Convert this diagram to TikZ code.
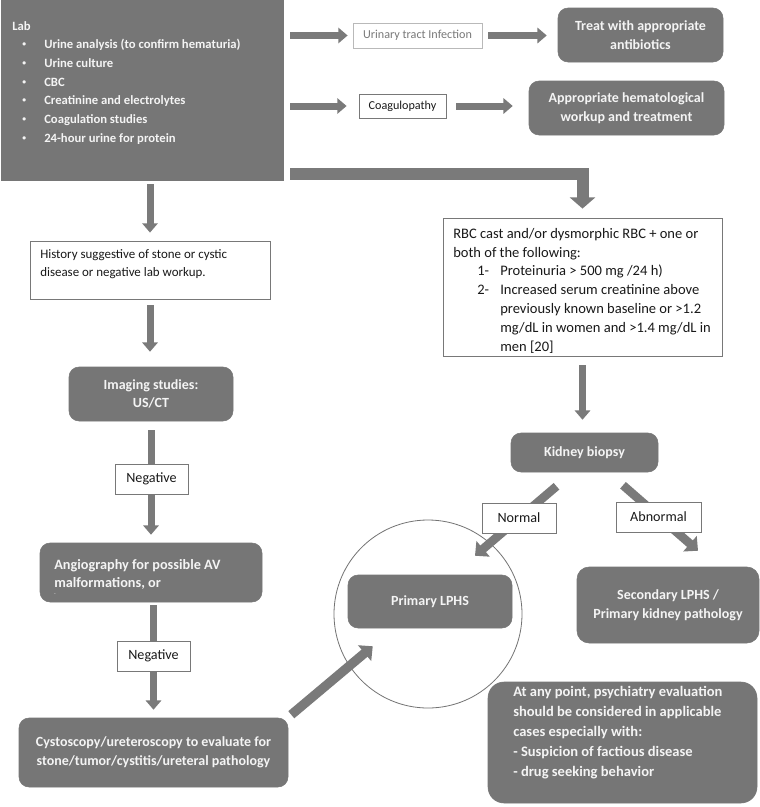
\documentclass[tikz,border=0pt]{standalone}
\usepackage{fontspec}
\setmainfont{Carlito}
\usetikzlibrary{arrows.meta}
\definecolor{boxg}{RGB}{118,118,118}
\definecolor{arrg}{RGB}{122,122,122}
\definecolor{bord}{RGB}{120,120,120}
\definecolor{wtxt}{RGB}{244,244,244}
\definecolor{dtxt}{RGB}{25,25,25}
\definecolor{ltxt}{RGB}{120,120,120}
\newcommand{\blt}{\hspace*{7.5pt}\makebox[16.5pt][l]{\raisebox{0.3ex}{\scalebox{0.6}{•}}}}
\begin{document}
\begin{tikzpicture}[x=0.75pt,y=-0.75pt,
  darkbox/.style={fill=boxg, draw=boxg, rounded corners=7.5pt, text=wtxt,
    font=\bfseries\fontsize{10.5}{14}\selectfont, align=center, inner sep=0pt},
  whitebox/.style={fill=white, draw=bord, line width=0.6pt, inner sep=0pt, text=dtxt,
    font=\fontsize{10.6}{14}\selectfont},
  arr/.style={draw=arrg, line width=5.25pt, -{Triangle[width=11.5pt,length=7pt]}},
  darr/.style={draw=arrg, line width=6.5pt, -{Triangle[width=15pt,length=8pt]}},
  elb/.style={draw=arrg, line width=9pt, -{Triangle[width=19pt,length=8.5pt]}},
]
\useasboundingbox (0,0) rectangle (760,807);
\fill[white] (0,0) rectangle (760,807);

% top lab box
\node[fill=boxg, draw=boxg, minimum width=211.5pt, minimum height=135pt, inner sep=0pt] (lab) at (142,90) {};
\node[anchor=north west, inner sep=0pt, align=left, text=wtxt, font=\bfseries\fontsize{9.5}{14}\selectfont] (labtxt) at (12,21)
 {Lab\\
  \blt Urine analysis (to confirm hematuria)\\
  \blt Urine culture\\
  \blt CBC\\
  \blt Creatinine and electrolytes\\
  \blt Coagulation studies\\
  \blt 24-hour urine for protein};

% right top column
\node[whitebox, draw=gray!55, text=ltxt, font=\fontsize{9.1}{12}\selectfont, minimum width=96.75pt, minimum height=18.75pt] (uti) at (417.5,35.5) {Urinary tract Infection};
\node[darkbox, minimum width=123.75pt, minimum height=40.5pt] (treat) at (640.5,35) {Treat with appropriate\\antibiotics};
\node[whitebox, font=\fontsize{9.1}{12}\selectfont, minimum width=65.25pt, minimum height=18pt] (coag) at (402.5,106) {Coagulopathy};
\node[darkbox, minimum width=146.25pt, minimum height=40.5pt] (hemato) at (626.5,108) {Appropriate hematological\\workup and treatment};

% RBC box
\node[whitebox, minimum width=209.25pt, minimum height=103.5pt] (rbc) at (582.5,287) {};
\node[anchor=north west, inner sep=0pt, align=left, text=dtxt, font=\fontsize{10.9}{14.1}\selectfont] (rbctxt) at (453,228)
 {RBC cast and/or dysmorphic RBC + one or\\
  both of the following:\\
  \hspace*{18pt}\makebox[17.25pt][l]{1-}Proteinuria > 500 mg /24 h)\\
  \hspace*{18pt}\makebox[17.25pt][l]{2-}Increased serum creatinine above\\
  \hspace*{35.25pt}previously known baseline or >1.2\\
  \hspace*{35.25pt}mg/dL in women and >1.4 mg/dL in\\
  \hspace*{35.25pt}men [20]};

\node[darkbox, minimum width=110.25pt, minimum height=29.25pt] (kidney) at (584.5,452.5) {Kidney biopsy};

% left column
\node[whitebox, minimum width=180pt, minimum height=43.5pt] (hist) at (150,270) {};
\node[anchor=north west, inner sep=0pt, align=left, text=dtxt, font=\fontsize{9.7}{13.5}\selectfont] (histtxt) at (40,249)
 {History suggestive of stone or cystic\\disease or negative lab workup.};
\node[darkbox, minimum width=123pt, minimum height=40.5pt] (img) at (151,394) {Imaging studies:\\US/CT};
\node[darkbox, minimum width=166.5pt, minimum height=44.25pt] (angio) at (151,572.5) {};
\node[anchor=north west, inner sep=0pt, align=left, text=wtxt, font=\bfseries\fontsize{10.7}{14}\selectfont] (angiotxt) at (54,559)
 {Angiography for possible AV\\malformations, or};
\node[anchor=west, inner sep=0pt, text=wtxt, font=\fontsize{4}{4}\selectfont] (angiodot) at (54,595) {·};
\node[darkbox, minimum width=201.75pt, minimum height=51.75pt] (cysto) at (153.5,752.5) {Cystoscopy/ureteroscopy to evaluate for\\stone/tumor/cystitis/ureteral pathology};

% circle and primary
\node[circle, draw=gray!90!black, line width=0.6pt, minimum size=141pt, inner sep=0pt] (circ) at (428,614) {};
\node[darkbox, minimum width=123pt, minimum height=39.75pt] (primary) at (430,601.5) {Primary LPHS};
\node[darkbox, minimum width=136.5pt, minimum height=57pt, rounded corners=9pt] (second) at (668,605) {Secondary LPHS /\\Primary kidney pathology};
\node[darkbox, minimum width=201.75pt, minimum height=90.75pt, rounded corners=12pt] (psych) at (622.5,742.5) {};
\node[anchor=north west, inner sep=0pt, align=left, text=wtxt, font=\bfseries\fontsize{10.9}{15}\selectfont] (psychtxt) at (513,686)
 {At any point, psychiatry evaluation\\
  should be considered in applicable\\
  cases especially with:\\
  - Suspicion of factious disease\\
  - drug seeking behavior};

% arrows
\draw[arr, shorten <=5.25pt, shorten >=3.75pt] (lab.east |- uti.west) -- (uti.west);
\draw[arr, shorten <=4.5pt, shorten >=8.25pt] (uti.east) -- (treat.west |- uti.east);
\draw[arr, shorten <=5.25pt, shorten >=9pt] (lab.east |- coag.west) -- (coag.west);
\draw[arr, shorten <=7.5pt, shorten >=12pt] (coag.east) -- (hemato.west |- coag.east);
\draw[elb] ([shift={(7,-6)}]lab.south east) -| ([yshift=6.75pt]rbc.north);
\draw[arr, shorten <=3pt, shorten >=6pt] (hist.north |- lab.south) -- (hist.north);
\draw[arr, shorten <=4.5pt, shorten >=11.25pt] (hist.south) -- (hist.south |- img.north);
\draw[arr, shorten <=6.75pt, shorten >=6pt] (img.south) -- (img.south |- angio.north);
\draw[arr, shorten <=2.25pt, shorten >=6pt] (cysto.north |- angio.south) -- (cysto.north);
\draw[arr, shorten <=6.75pt, shorten >=9.75pt] (rbc.south) -- (rbc.south |- kidney.north);
\draw[darr] ([shift={(-28,14)}]kidney.south) -- ([shift={(45,-19)}]primary.north);
\draw[darr] ([shift={(38.5,13)}]kidney.south) -- ([shift={(30,-16)}]second.north);
\draw[darr, line width=7pt] ([shift={(3,-3)}]cysto.north east) -- ([shift={(25,18)}]primary.south west);

% labels on arrows
\node[whitebox, minimum width=54.75pt, minimum height=22.5pt] (neg1) at (151.5,479) {Negative};
\node[whitebox, minimum width=54.75pt, minimum height=22.5pt] (neg2) at (153.5,656) {Negative};
\node[whitebox, minimum width=55.5pt, minimum height=22.5pt] (normal) at (519,518) {Normal};
\node[whitebox, minimum width=63.75pt, minimum height=22.5pt] (abnormal) at (658.5,517) {Abnormal};
\end{tikzpicture}
\end{document}
